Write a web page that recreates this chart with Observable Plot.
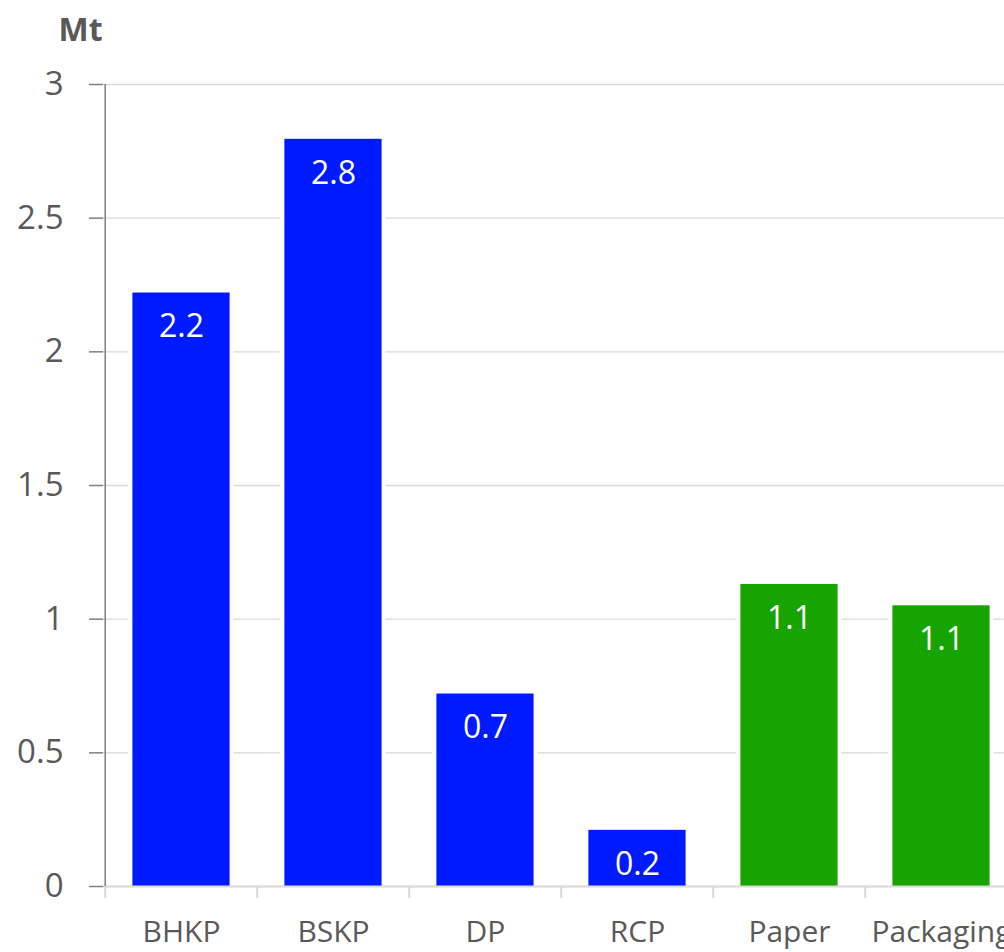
<!DOCTYPE html>
<html>
<head>
<meta charset="utf-8">
<script src="https://cdn.jsdelivr.net/npm/d3@7"></script>
<script src="https://cdn.jsdelivr.net/npm/@observablehq/plot@0.6"></script>
<style>
  html, body { margin: 0; padding: 0; background: #fff; overflow: hidden; }
  #chart svg { display: block; overflow: hidden; }
</style>
</head>
<body>
<div id="chart"></div>
<script>
const categories = ["BHKP", "BSKP", "DP", "RCP", "Paper", "Packaging"];
const values = [2.22, 2.795, 0.72, 0.21, 1.13, 1.05];
const groups = ["pulp", "pulp", "pulp", "pulp", "product", "product"];
const yTicks = [0, 0.5, 1, 1.5, 2, 2.5, 3];
const unitLabel = "Mt";

const data = categories.map((c, i) => ({category: c, value: values[i], group: groups[i]}));

const font = "'Open Sans', 'Noto Sans', sans-serif";
const step = (1018.6 - 103) / categories.length;

const chart = Plot.plot({
  width: 1004,
  height: 952,
  marginLeft: 103,
  marginRight: 0,
  marginTop: 84,
  marginBottom: 66,
  style: {fontFamily: font, background: "white", overflow: "hidden"},
  x: {domain: categories, range: [103, 1018.6], padding: 0, axis: null, label: null},
  y: {domain: [0, 3], range: [886, 84], axis: null, label: null},
  color: {domain: ["pulp", "product"], range: ["#001AFF", "#17A400"]},
  marks: [
    Plot.ruleY(yTicks, {stroke: "#d9d9d9", strokeWidth: 1.3}),
    Plot.barY(data, {
      x: "category", y: "value", fill: "group",
      insetLeft: 27.4, insetRight: 27.4,
      stroke: "white", strokeWidth: 8, paintOrder: "stroke"
    }),
    Plot.text(data, {
      x: "category", y: "value", text: d => d3.format(".1f")(d.value),
      dy: 34, fill: "white", fontSize: 32, fontFamily: font
    }),
    Plot.ruleY([0], {stroke: "#d9d9d9", strokeWidth: 2}),
    Plot.axisX({
      tickSize: 12, tickFormat: () => "", dx: -step / 2, label: null,
      stroke: "#d9d9d9", strokeWidth: 2
    }),
    Plot.axisX({
      tickSize: 0, tickPadding: 34, fontSize: 30, fill: "#595959", fontFamily: font,
      tickFormat: d => d, label: null
    }),
    Plot.axisY({
      ticks: yTicks, tickSize: 14, tickPadding: 26, fontSize: 33, fill: "#595959", label: null,
      stroke: "#7f7f7f", strokeWidth: 1.5, tickFormat: d => String(d), fontFamily: font
    }),
    Plot.ruleX(["BHKP"], {x: d => d, dx: -step / 2, y1: 0, y2: 3, stroke: "#7f7f7f", strokeWidth: 1.5}),
    Plot.text([unitLabel], {
      frameAnchor: "top-left", text: d => d, dx: -45, dy: -66,
      fontSize: 32, fontWeight: "bold", fill: "#595959", fontFamily: font, textAnchor: "start"
    })
  ]
});
document.getElementById("chart").appendChild(chart);
</script>
</body>
</html>
